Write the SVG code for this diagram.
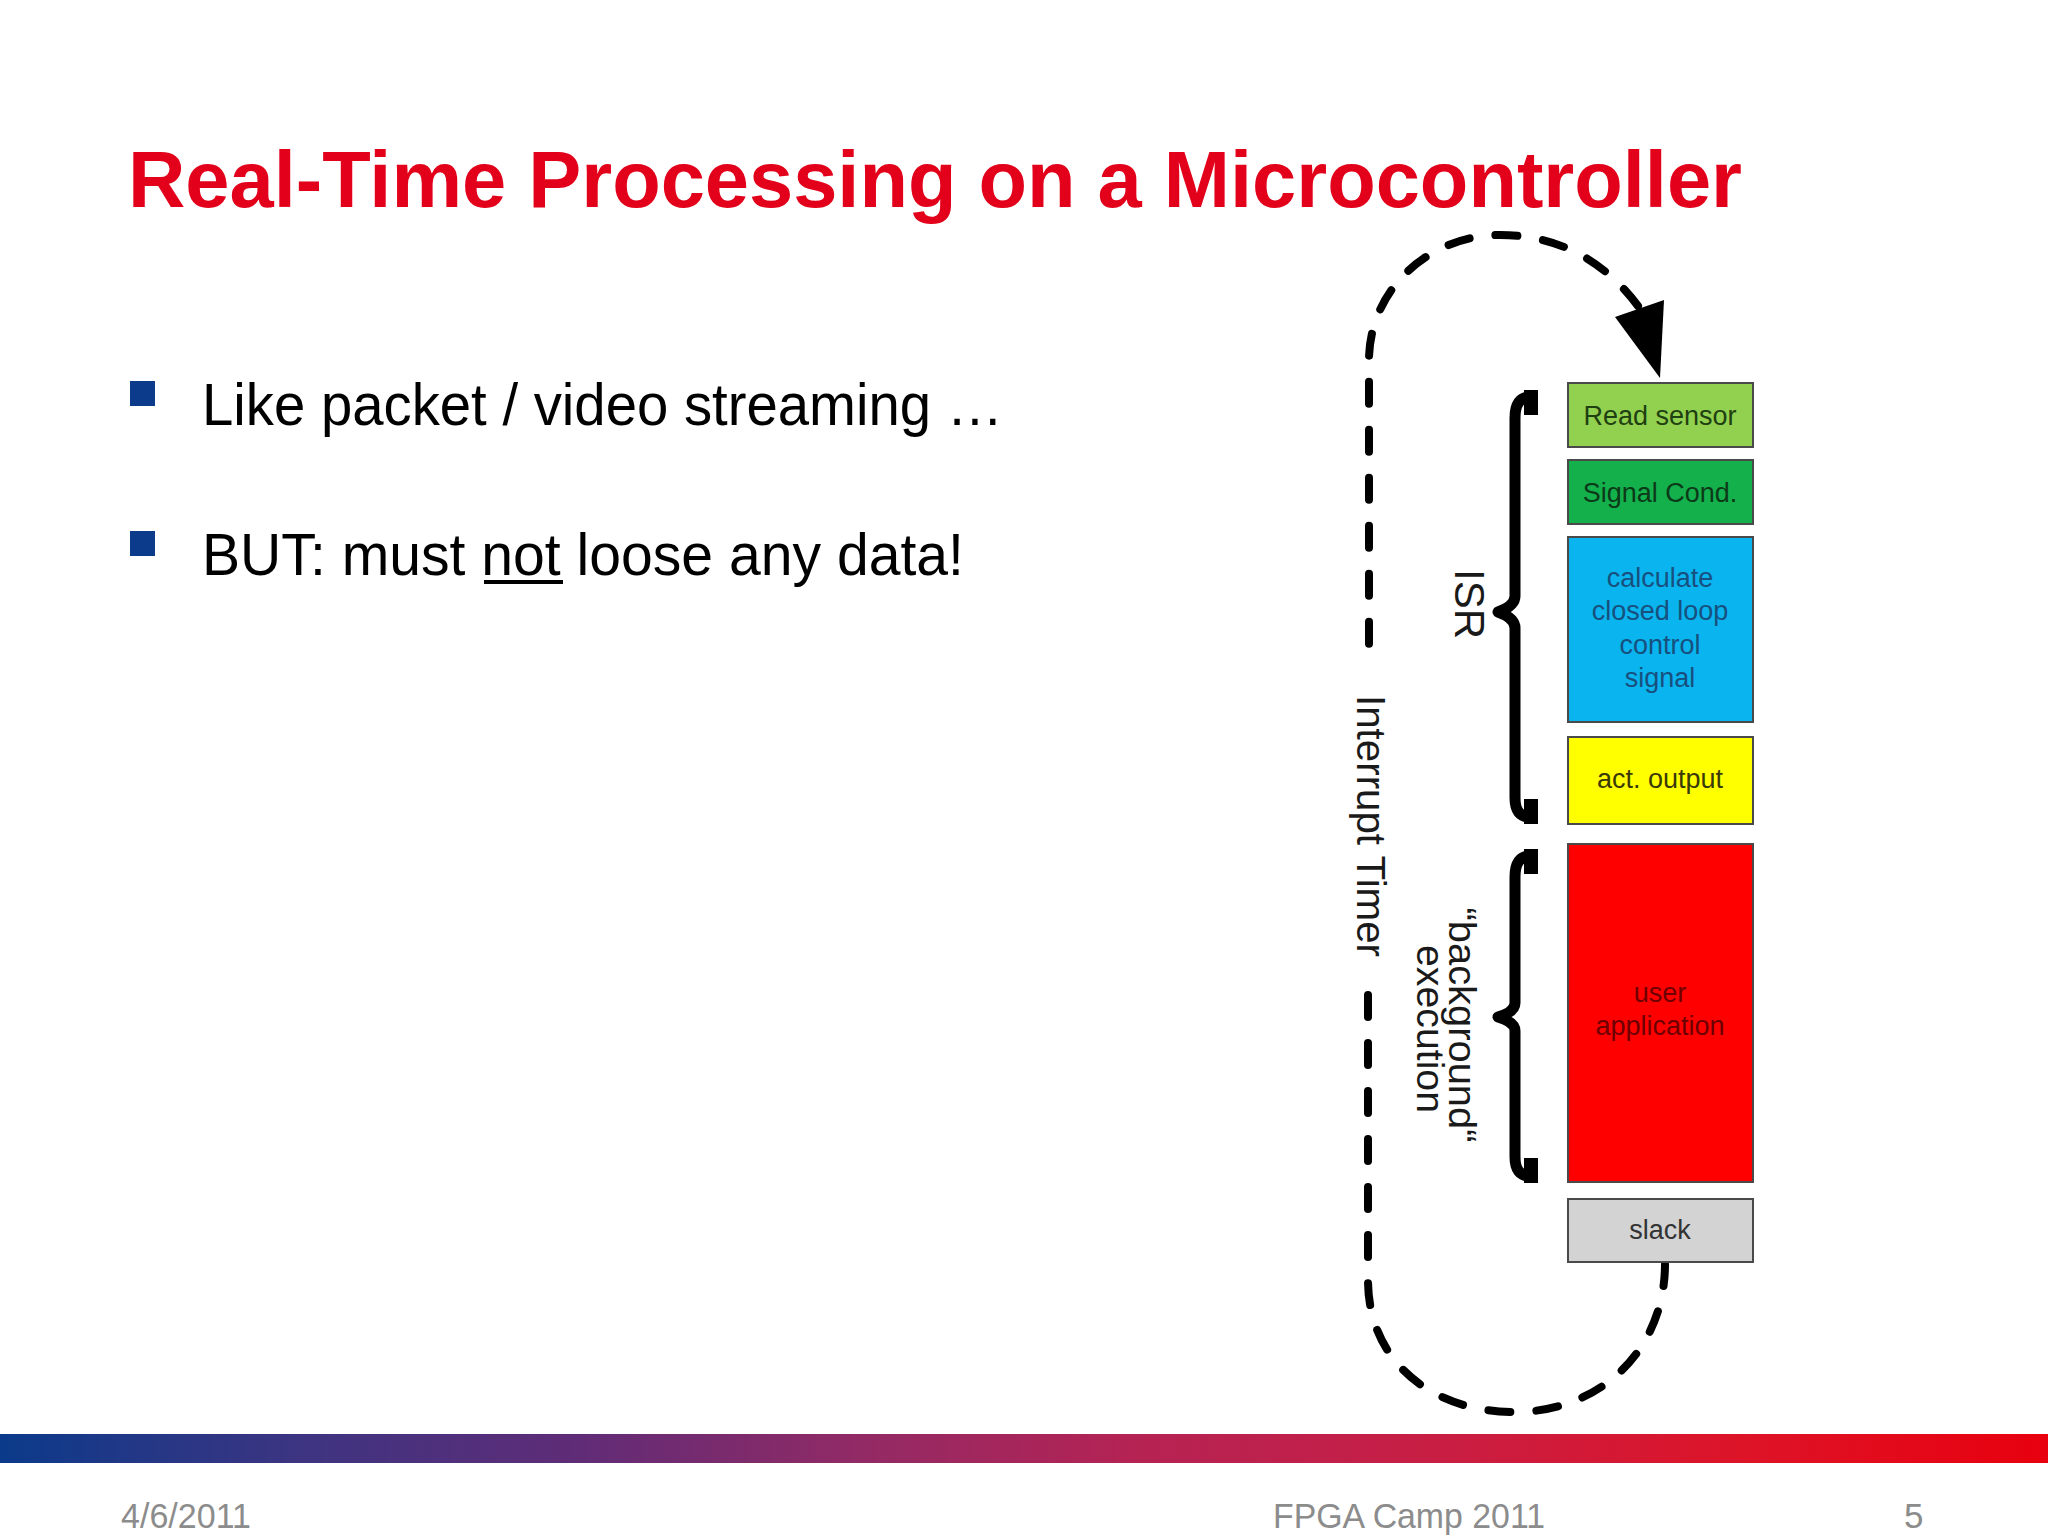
<svg xmlns="http://www.w3.org/2000/svg" width="2048" height="1536" viewBox="0 0 2048 1536">
<defs>
<linearGradient id="bar" x1="0" y1="0" x2="1" y2="0">
<stop offset="0" stop-color="#0b3a8a"/>
<stop offset="0.15" stop-color="#3e3481"/>
<stop offset="0.28" stop-color="#5f2c77"/>
<stop offset="0.42" stop-color="#922a65"/>
<stop offset="0.55" stop-color="#b42354"/>
<stop offset="0.7" stop-color="#c81e44"/>
<stop offset="0.85" stop-color="#dd1428"/>
<stop offset="1" stop-color="#e8000e"/>
</linearGradient>
<style>
text{font-family:"Liberation Sans",Arial,sans-serif}
.title{font-size:80px;font-weight:bold;fill:#e2001a}
.bullet{font-size:59px;fill:#000}
.bsq{fill:#0d3b8c}
.foot{font-size:35px;fill:#8c8c8c}
.box{stroke:#4a4a4a;stroke-width:2}
.lbl{font-size:27px;text-anchor:middle}
.side{fill:#1a1a1a;text-anchor:middle}
.brace{fill:none;stroke:#000;stroke-width:11;stroke-linejoin:round}
.dash{fill:none;stroke:#000;stroke-width:8;stroke-linecap:round;stroke-dasharray:22 26}
</style>
</defs>
<rect width="2048" height="1536" fill="#ffffff"/>

<g id="title">
<text class="title" x="128" y="207" textLength="1614" lengthAdjust="spacingAndGlyphs">Real-Time Processing on a Microcontroller</text>
</g>

<g id="bullets">
<rect class="bsq" x="130" y="381" width="25" height="25"/>
<text class="bullet" x="202" y="425" textLength="801" lengthAdjust="spacingAndGlyphs">Like packet / video streaming …</text>
<rect class="bsq" x="130" y="531" width="25" height="25"/>
<text class="bullet" x="202" y="575" textLength="762" lengthAdjust="spacingAndGlyphs">BUT: must not loose any data!</text>
<rect x="484" y="580" width="79" height="4" fill="#000"/>
</g>

<g id="connectors">
<path class="dash" d="M1638 306 C1605 262 1560 235 1500 235 A131 125 0 0 0 1369 360 L1369 662"/>
<polygon points="1660,378 1615,317 1664,300" fill="#000"/>
<path class="dash" d="M1665 1264 C1665 1350 1600 1412 1515 1412 C1430 1412 1368 1360 1368 1280 L1368 983"/>
</g>

<g id="interrupt-timer">
<text class="side" font-size="41" transform="translate(1357,826) rotate(90)" textLength="262" lengthAdjust="spacingAndGlyphs">Interrupt Timer</text>
</g>

<g id="isr-brace">
<path class="brace" d="M1537 397 L1530 397 Q1515 397 1515 418 L1515 596 Q1515 606 1498 612 Q1515 618 1515 628 L1515 798 Q1515 817 1530 817 L1537 817"/>
<rect x="1524" y="390" width="14" height="25" fill="#000"/>
<rect x="1524" y="799" width="14" height="25" fill="#000"/>
<text class="side" font-size="42" transform="translate(1455,604) rotate(90)">ISR</text>
</g>

<g id="background-brace">
<path class="brace" d="M1537 856 L1530 856 Q1515 856 1515 877 L1515 1003 Q1515 1012 1498 1017 Q1515 1022 1515 1031 L1515 1157 Q1515 1176 1530 1176 L1537 1176"/>
<rect x="1524" y="849" width="14" height="25" fill="#000"/>
<rect x="1524" y="1158" width="14" height="25" fill="#000"/>
<text class="side" font-size="38" transform="translate(1449,1025) rotate(90)" textLength="235" lengthAdjust="spacingAndGlyphs">“background“</text>
<text class="side" font-size="38" transform="translate(1417,1029) rotate(90)" textLength="168" lengthAdjust="spacingAndGlyphs">execution</text>
</g>

<g id="read-sensor">
<rect class="box" x="1568" y="383" width="185" height="64" fill="#92d050"/>
<text class="lbl" x="1660" y="425" fill="#1f4010">Read sensor</text>
</g>

<g id="signal-cond">
<rect class="box" x="1568" y="460" width="185" height="64" fill="#14b04c"/>
<text class="lbl" x="1660" y="502" fill="#0c3a18">Signal Cond.</text>
</g>

<g id="calculate">
<rect class="box" x="1568" y="537" width="185" height="185" fill="#0ab4ef"/>
<text class="lbl" x="1660" y="587" fill="#17507e">calculate</text>
<text class="lbl" x="1660" y="620" fill="#17507e">closed loop</text>
<text class="lbl" x="1660" y="654" fill="#17507e">control</text>
<text class="lbl" x="1660" y="687" fill="#17507e">signal</text>
</g>

<g id="act-output">
<rect class="box" x="1568" y="737" width="185" height="87" fill="#ffff00"/>
<text class="lbl" x="1660" y="788" fill="#3a3a08">act. output</text>
</g>

<g id="user-application">
<rect class="box" x="1568" y="844" width="185" height="338" fill="#fe0000"/>
<text class="lbl" x="1660" y="1002" fill="#6e0000">user</text>
<text class="lbl" x="1660" y="1035" fill="#6e0000">application</text>
</g>

<g id="slack">
<rect class="box" x="1568" y="1199" width="185" height="63" fill="#d3d3d3"/>
<text class="lbl" x="1660" y="1239" fill="#333333">slack</text>
</g>

<g id="footer">
<rect x="0" y="1434" width="2048" height="29" fill="url(#bar)"/>
<text class="foot" x="121" y="1528" textLength="130" lengthAdjust="spacingAndGlyphs">4/6/2011</text>
<text class="foot" x="1273" y="1528" textLength="272" lengthAdjust="spacingAndGlyphs">FPGA Camp 2011</text>
<text class="foot" x="1904" y="1528">5</text>
</g>
</svg>
